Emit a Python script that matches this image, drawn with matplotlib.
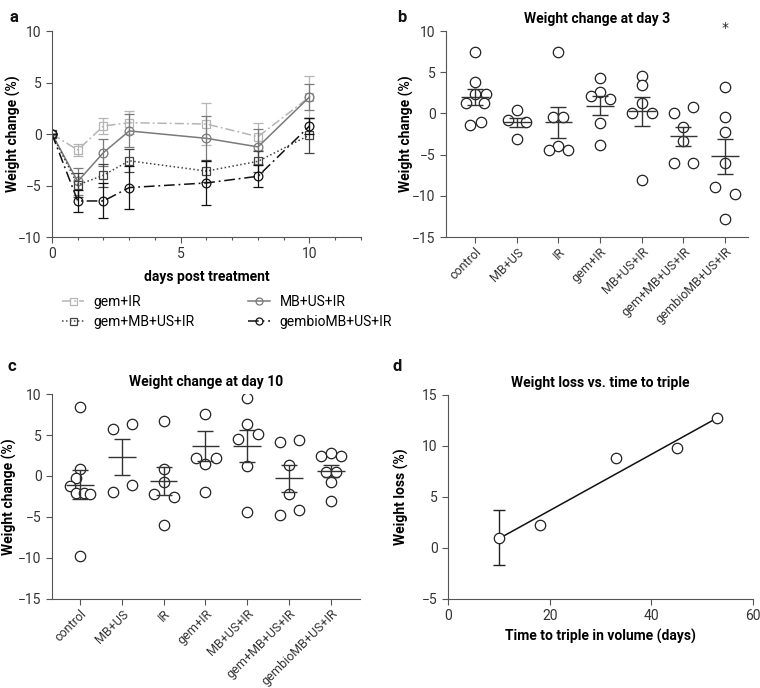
import numpy as np
import matplotlib
matplotlib.use('Agg')
from matplotlib import pyplot as plt
from matplotlib.ticker import MultipleLocator

plt.rcParams['font.family'] = ['Roboto', 'DejaVu Sans']
plt.rcParams['font.size'] = 10
plt.rcParams['axes.edgecolor'] = '#555555'
plt.rcParams['xtick.color'] = '#555555'
plt.rcParams['ytick.color'] = '#555555'
plt.rcParams['xtick.labelcolor'] = '#333333'
plt.rcParams['ytick.labelcolor'] = '#333333'

# ---- panel a: weight change over time (mean +- sem)
days = [0, 1, 2, 3, 6, 8, 10]
gem_ir = [0, -1.55, 0.78, 1.1, 0.97, -0.26, 3.6]
gem_ir_err = [0, 0.6, 0.8, 1.1, 2.0, 1.3, 2.0]
mbusir = [0, -4.6, -1.8, 0.3, -0.42, -1.25, 3.6]
mbusir_err = [0, 1.3, 1.3, 1.6, 2.2, 1.7, 1.3]
gem_mbusir = [0, -4.95, -4.0, -2.6, -3.6, -2.65, -0.1]
gem_mbusir_err = [0, 1.2, 1.1, 1.1, 1.1, 1.0, 1.7]
gembio = [0, -6.5, -6.5, -5.2, -4.75, -4.1, 0.78]
gembio_err = [0, 1.1, 1.7, 2.1, 2.1, 1.05, 0.8]

# ---- panels b, c: individual animals
groups = ['control', 'MB+US', 'IR', 'gem+IR', 'MB+US+IR', 'gem+MB+US+IR', 'gembioMB+US+IR']

day3_vals = [
    [7.5, 3.8, 2.35, 2.35, 1.3, 1.3, -1.45, -1.0],
    [0.4, -0.75, -1.0, -3.05],
    [7.5, -0.45, -0.45, -4.0, -4.45, -4.45],
    [4.3, 2.6, 2.1, 1.7, -1.2, -3.8],
    [4.6, 3.4, 1.3, 0.0, 0.0, -8.1],
    [0.0, 0.8, -1.7, -3.3, -6.0, -6.0],
    [3.2, -0.4, -2.3, -6.0, -8.9, -9.8, -12.8],
]
day3_jit = [
    [0, 0, 0, 0.26, -0.22, 0.22, -0.12, 0.13],
    [0, -0.22, 0.22, 0],
    [0, -0.14, 0.12, 0, -0.23, 0.23],
    [0, 0, -0.22, 0.24, 0, 0],
    [0, 0, 0, -0.24, 0.25, 0],
    [-0.23, 0.24, 0, 0, -0.23, 0.24],
    [0, 0, 0, 0, -0.24, 0.24, 0],
]
day3_mean = [2.0, -1.1, -1.1, 0.95, 0.25, -2.75, -5.2]
day3_sem = [0.95, 0.6, 1.9, 1.2, 1.8, 1.15, 2.1]

day10_vals = [
    [8.4, 0.9, -0.3, -1.2, -2.05, -2.05, -2.2, -9.75],
    [5.7, 6.3, -2.0, -1.1],
    [6.7, 0.9, -0.7, -2.2, -2.55, -5.95],
    [7.6, 2.2, 2.2, 1.5, -2.0],
    [9.5, 6.3, 4.5, 5.1, 1.2, -4.45],
    [4.2, 4.35, 1.3, -2.2, -4.8, -4.2],
    [2.4, 2.85, 2.4, 0.5, 0.5, -0.7, -3.0],
]
day10_jit = [
    [0, 0, -0.09, -0.23, -0.1, 0.1, 0.25, 0],
    [-0.22, 0.25, -0.22, 0.25],
    [0, 0, 0, -0.22, 0.24, 0],
    [0, -0.22, 0.25, 0, 0],
    [0, 0, -0.23, 0.25, 0, 0],
    [-0.22, 0.24, 0, 0, -0.22, 0.24],
    [-0.24, 0, 0.24, -0.12, 0.12, 0, 0],
]
day10_mean = [-1.05, 2.3, -0.65, 3.65, 3.65, -0.25, 0.6]
day10_sem = [1.8, 2.2, 1.7, 1.85, 1.9, 1.65, 0.75]

# ---- panel d
ttt = [10, 18, 33, 45, 53]
wloss = [1.0, 2.3, 8.8, 9.8, 12.7]
wloss_err = [2.7, 0, 0, 0, 0]

FS = 10


def style(ax):
    ax.spines['top'].set_visible(False)
    ax.spines['right'].set_visible(False)
    ax.tick_params(direction='out', length=4, width=0.8, labelsize=FS)


fig = plt.figure(figsize=(7.6, 6.88), dpi=100)

# ================= a
ax = fig.add_axes([0.0684, 0.6555, 0.4066, 0.2994])
style(ax)
series = [
    (gem_ir, gem_ir_err, 'gem+IR', '#b5b5b5', (0, (6, 2, 1.2, 2)), 's'),
    (mbusir, mbusir_err, 'MB+US+IR', '#7a7a7a', '-', 'o'),
    (gem_mbusir, gem_mbusir_err, 'gem+MB+US+IR', '#444444', (0, (1, 1.6)), 's'),
    (gembio, gembio_err, 'gembioMB+US+IR', '#111111', (0, (7, 2.5, 1.2, 2.5)), 'o'),
]
handles = {}
for y, e, lab, col, ls, mk in series:
    ax.errorbar(days, y, yerr=e, color=col, lw=1.0, capsize=3.5, elinewidth=0.9,
                capthick=0.9, fmt='none')
    h, = ax.plot(days, y, color=col, ls=ls, lw=1.1, marker=mk, ms=6.3,
                 mfc='none', mec=col, mew=0.9, label=lab)
    handles[lab] = h
ax.set_xlim(0, 12)
ax.set_ylim(-10, 10)
ax.set_xticks([0, 5, 10])
ax.xaxis.set_minor_locator(MultipleLocator(1))
ax.tick_params(which='minor', length=2.5, width=0.8)
ax.set_yticks([-10, -5, 0, 5, 10])
ax.set_xlabel('days post treatment', fontweight='bold', fontsize=FS, labelpad=6)
ax.set_ylabel('Weight change (%)', fontweight='bold', fontsize=FS)
ax.yaxis.set_label_coords(-0.10, 0.5)
# column-major order so rows read gem+IR / MB+US+IR, gem+MB+US+IR / gembio
leg_order = ['gem+IR', 'gem+MB+US+IR', 'MB+US+IR', 'gembioMB+US+IR']
fig.legend([handles[k] for k in leg_order], leg_order,
           loc='upper left', bbox_to_anchor=(0.072, 0.582), ncol=2, frameon=False,
           borderpad=0, handlelength=1.6, handletextpad=0.7, columnspacing=3.8,
           labelspacing=0.45, fontsize=FS, markerscale=0.8)


def dotplot(ax, vals, jit, means, sems, title):
    style(ax)
    for i in range(len(groups)):
        ax.plot(np.array(jit[i]) + i, vals[i], ls='none', marker='o', ms=7.5,
                mfc='white', mec='#222222', mew=0.9, zorder=2)
        ax.hlines(means[i], i - 0.33, i + 0.33, color='#333333', lw=1.0, zorder=3)
        ax.errorbar(i, means[i], yerr=sems[i], fmt='none', ecolor='#333333',
                    elinewidth=1.0, capsize=5.5, capthick=1.0, zorder=3)
    ax.set_xlim(-0.7, 6.55)
    ax.set_ylim(-15, 10)
    ax.set_yticks([-15, -10, -5, 0, 5, 10])
    ax.set_xticks(range(len(groups)))
    ax.set_xticklabels(groups, rotation=45, ha='right', rotation_mode='anchor', fontsize=9)
    ax.tick_params(axis='x', pad=2)
    ax.set_title(title, fontweight='bold', fontsize=FS, pad=6)
    ax.set_ylabel('Weight change (%)', fontweight='bold', fontsize=FS)


# ================= b
ax = fig.add_axes([0.5868, 0.6555, 0.3974, 0.2994])
dotplot(ax, day3_vals, day3_jit, day3_mean, day3_sem, 'Weight change at day 3')
ax.yaxis.set_label_coords(-0.106, 0.5)
ax.text(6, 10.4, '*', ha='center', va='center', fontsize=10, color='#222222',
        family=['DejaVu Sans'], clip_on=False)

# ================= c
ax = fig.add_axes([0.0684, 0.1294, 0.4053, 0.2979])
dotplot(ax, day10_vals, day10_jit, day10_mean, day10_sem, 'Weight change at day 10')
ax.set_xlim(-0.67, 6.7)
ax.yaxis.set_label_coords(-0.115, 0.5)

# ================= d
ax = fig.add_axes([0.5895, 0.1294, 0.4013, 0.2965])
style(ax)
k, b0 = np.polyfit(ttt, wloss, 1)
xl = np.array([min(ttt), max(ttt)])
ax.plot(xl, k * xl + b0, color='#111111', lw=1.1)
ax.errorbar(ttt[0], wloss[0], yerr=wloss_err[0], fmt='none', ecolor='#222222',
            elinewidth=1.0, capsize=4.5, capthick=1.0)
ax.plot(ttt, wloss, ls='none', marker='o', ms=7.5, mfc='white', mec='#222222', mew=0.9)
ax.set_xlim(0, 60)
ax.set_ylim(-5, 15)
ax.set_xticks([0, 20, 40, 60])
ax.set_yticks([-5, 0, 5, 10, 15])
ax.set_title('Weight loss vs. time to triple', fontweight='bold', fontsize=FS, pad=6)
ax.set_xlabel('Time to triple in volume (days)', fontweight='bold', fontsize=FS)
ax.set_ylabel('Weight loss (%)', fontweight='bold', fontsize=FS)
ax.yaxis.set_label_coords(-0.128, 0.5)

for lab, x, y in [('a', 0.012, 0.985), ('b', 0.522, 0.985), ('c', 0.01, 0.478), ('d', 0.517, 0.478)]:
    fig.text(x, y, lab, fontweight='bold', fontsize=12, va='top', color='#111111')

fig.savefig('out.png', dpi=100)
